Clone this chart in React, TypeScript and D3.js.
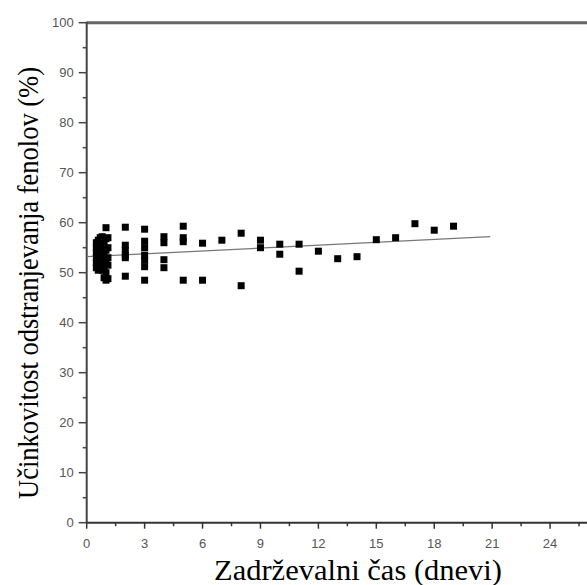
import React from "react";
import * as d3 from "d3";

const W = 587;
const H = 585;

// Retention time (days) and phenol removal efficiency (%)
const clusterX = [
  0.5, 0.5, 0.5, 0.5, 0.5, 0.5,
  0.6, 0.6, 0.6, 0.6,
  0.7, 0.7, 0.7, 0.7,
  0.8, 0.8, 0.8, 0.8, 0.8,
  0.9, 0.9, 0.9, 0.9,
  1.0, 1.0, 1.0, 1.0, 1.0, 1.0,
  1.1, 1.1, 1.1, 1.1, 1.1,
];
const clusterY = [
  51, 52, 53, 54, 55, 56,
  50.5, 52.5, 54.5, 56.5,
  51.5, 53, 55, 57,
  50.5, 52, 54, 55.5, 57.2,
  49, 51, 53.5, 56,
  48.5, 50, 52.5, 54.5, 56.8, 59,
  48.8, 51.5, 53, 55, 57,
];
const otherX = [
  2, 2, 2, 2, 2, 2,
  3, 3, 3, 3, 3, 3, 3,
  4, 4, 4, 4,
  5, 5, 5, 5,
  6, 6,
  7,
  8, 8,
  9, 9,
  10, 10,
  11, 11,
  12, 13, 14, 15, 16, 17, 18, 19,
];
const otherY = [
  59.1, 55.5, 54.5, 53.5, 53, 49.3,
  58.7, 56.3, 55, 53.5, 52.5, 51.2, 48.5,
  57.2, 56, 52.6, 51,
  59.3, 57, 56.2, 48.5,
  55.9, 48.5,
  56.5,
  57.9, 47.4,
  56.5, 55,
  55.7, 53.7,
  55.7, 50.3,
  54.3, 52.8, 53.2, 56.6, 57.0, 59.8, 58.5, 59.3,
];
const dataX = [...clusterX, ...otherX];
const dataY = [...clusterY, ...otherY];

// Linear fit endpoints
const fitX = [0, 20.9];
const fitY = [53.2, 57.2];

const xMajor = [0, 3, 6, 9, 12, 15, 18, 21, 24];
const xMinor = [1.5, 4.5, 7.5, 10.5, 13.5, 16.5, 19.5, 22.5, 25.5];
const yMajor = [0, 10, 20, 30, 40, 50, 60, 70, 80, 90, 100];
const yMinor = [5, 15, 25, 35, 45, 55, 65, 75, 85, 95];

const xTitle = "Zadrževalni čas (dnevi)";
const yTitle = "Učinkovitost odstranjevanja fenolov (%)";

export default function App() {
  const x = d3.scaleLinear().domain([0, 27]).range([86.7, 608]);
  const y = d3.scaleLinear().domain([0, 100]).range([522.7, 22.7]);
  const line = d3
    .line<number>()
    .x((d) => x(fitX[d]))
    .y((d) => y(fitY[d]));
  const tickFont = "'Liberation Sans', Arial, sans-serif";
  const serif = "'Liberation Serif', 'Times New Roman', serif";
  const sq = 7;
  return (
    <svg
      width={W}
      height={H}
      style={{ position: "absolute", left: 0, top: 0, background: "#fff" }}
    >
      {/* top frame */}
      <line x1={x(0)} x2={W} y1={y(100)} y2={y(100)} stroke="#666" strokeWidth={3} />
      {/* axes */}
      <line x1={x(0)} x2={x(0)} y1={y(100) - 1} y2={y(0)} stroke="#444" strokeWidth={2} />
      <line x1={x(0)} x2={W} y1={y(0)} y2={y(0)} stroke="#333" strokeWidth={2} />
      {yMajor.map((v) => (
        <g key={"ym" + v}>
          <line x1={x(0) - 8} x2={x(0)} y1={y(v)} y2={y(v)} stroke="#444" strokeWidth={1.5} />
          <text
            x={x(0) - 13}
            y={y(v)}
            dy="0.35em"
            textAnchor="end"
            fontFamily={tickFont}
            fontSize={13}
            fill="#555"
          >
            {v}
          </text>
        </g>
      ))}
      {yMinor.map((v) => (
        <line key={"yn" + v} x1={x(0) - 4} x2={x(0)} y1={y(v)} y2={y(v)} stroke="#444" strokeWidth={1.5} />
      ))}
      {xMajor.map((v) => (
        <g key={"xm" + v}>
          <line x1={x(v)} x2={x(v)} y1={y(0)} y2={y(0) + 6} stroke="#333" strokeWidth={1.5} />
          <text
            x={x(v)}
            y={548}
            textAnchor="middle"
            fontFamily={tickFont}
            fontSize={13}
            fill="#555"
          >
            {v}
          </text>
        </g>
      ))}
      {xMinor.map((v) => (
        <line key={"xn" + v} x1={x(v)} x2={x(v)} y1={y(0)} y2={y(0) + 3.5} stroke="#333" strokeWidth={1.5} />
      ))}
      {/* fit line */}
      <path d={line([0, 1]) || ""} fill="none" stroke="#777" strokeWidth={1.3} />
      {/* points */}
      {dataX.map((v, i) => (
        <rect
          key={"p" + i}
          x={x(v) - sq / 2}
          y={y(dataY[i]) - sq / 2}
          width={sq}
          height={sq}
          fill="#000"
        />
      ))}
      {/* titles */}
      <text
        x={358}
        y={580}
        textAnchor="middle"
        fontFamily={serif}
        fontSize={29}
        fill="#000"
        textLength={288}
        lengthAdjust="spacingAndGlyphs"
      >
        {xTitle}
      </text>
      <text
        transform="translate(38,283) rotate(-90)"
        textAnchor="middle"
        fontFamily={serif}
        fontSize={29}
        fill="#000"
        textLength={432}
        lengthAdjust="spacingAndGlyphs"
      >
        {yTitle}
      </text>
    </svg>
  );
}
